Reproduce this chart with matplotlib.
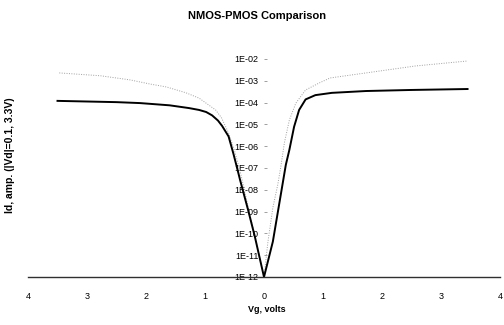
import matplotlib
matplotlib.use("Agg")
import matplotlib.pyplot as plt
from matplotlib.ticker import FuncFormatter, FixedLocator
import numpy as np

plt.rcParams['font.family'] = ['Liberation Sans Narrow', 'Liberation Sans', 'DejaVu Sans']

title = "NMOS-PMOS Comparison"
xlabel = "Vg, volts"
ylabel = "Id, amp. (|Vd|=0.1, 3.3V)"

# NMOS, low Vd (solid)
nmos_lo_vg = [0.0, 0.15, 0.37, 0.43, 0.51, 0.595, 0.705, 0.87, 1.15, 1.73, 2.5, 3.45]
nmos_lo_id = [1e-12, 4.2e-11, 1.4e-7, 6.8e-7, 7.8e-6, 4.6e-5, 1.4e-4, 2.2e-4, 2.8e-4, 3.4e-4, 3.8e-4, 4.2e-4]
# NMOS, high Vd (dotted)
nmos_hi_vg = [0.0, 0.067, 0.15, 0.233, 0.29, 0.345, 0.43, 0.54, 0.705, 0.93, 1.12, 1.73, 2.57, 3.45]
nmos_hi_id = [1e-12, 4.2e-11, 1.5e-9, 1.7e-8, 1.4e-7, 1.4e-6, 1.6e-5, 9.5e-5, 3.8e-4, 7.8e-4, 1.35e-3, 2.3e-3, 4.8e-3, 8.1e-3]
# PMOS, low Vd (solid)
pmos_lo_vg = [-3.5, -2.5, -2.1, -1.6, -1.27, -1.1, -0.98, -0.88, -0.78, -0.71, -0.6, -0.52, -0.46, -0.405, -0.27, -0.155, 0.0]
pmos_lo_id = [1.2e-4, 1.05e-4, 9.5e-5, 7.5e-5, 5.6e-5, 4.6e-5, 3.7e-5, 2.6e-5, 1.5e-5, 8.5e-6, 2.8e-6, 4.7e-7, 1.1e-7, 2.8e-8, 1.2e-9, 7.1e-11, 1e-12]
# PMOS, high Vd (dotted)
pmos_hi_vg = [-3.47, -2.77, -2.27, -1.93, -1.65, -1.32, -1.1, -0.82, -0.72, -0.6, -0.5, -0.4, -0.3, -0.2, -0.1, 0.0]
pmos_hi_id = [2.3e-3, 1.7e-3, 1.1e-3, 7.1e-4, 5.2e-4, 2.8e-4, 1.6e-4, 4.6e-5, 2.0e-5, 4.0e-6, 6.3e-7, 6.3e-8, 4.0e-9, 2.5e-10, 1.6e-11, 1e-12]

xticks = [-4, -3, -2, -1, 0, 1, 2, 3, 4]
yticks = [1e-12, 1e-11, 1e-10, 1e-9, 1e-8, 1e-7, 1e-6, 1e-5, 1e-4, 1e-3, 1e-2]

fig = plt.figure(figsize=(5.04, 3.25), dpi=100)
ax = fig.add_axes([28/504, 48/325, 472/504, 218/325])

ax.plot(nmos_hi_vg, nmos_hi_id, color='#a0a0a0', lw=0.7, ls=(0, (1, 1.5)))
ax.plot(pmos_hi_vg, pmos_hi_id, color='#a0a0a0', lw=0.7, ls=(0, (1, 1.5)))
ax.plot(nmos_lo_vg, nmos_lo_id, color='black', lw=1.4)
ax.plot(pmos_lo_vg, pmos_lo_id, color='black', lw=1.4)

ax.set_yscale('log')
ax.set_xlim(-4, 4)
ax.set_ylim(1e-12, 1e-2)

for s in ['top', 'right']:
    ax.spines[s].set_visible(False)
ax.spines['left'].set_position(('data', 0))
ax.spines['left'].set_visible(False)
ax.spines['bottom'].set_color('#303030')
ax.spines['bottom'].set_linewidth(1.0)

ax.xaxis.set_major_locator(FixedLocator(xticks))
ax.xaxis.set_major_formatter(FuncFormatter(lambda v, p: f"{abs(int(round(v)))}"))
ax.tick_params(axis='x', length=0, pad=11, labelsize=6.5)

ax.yaxis.set_major_locator(FixedLocator(yticks))
ax.yaxis.set_minor_locator(FixedLocator([]))
ax.yaxis.set_major_formatter(FuncFormatter(lambda v, p: f"1E-{-int(round(np.log10(v))):02d}"))
ax.tick_params(axis='y', direction='in', length=2, width=0.6, color='#909090', pad=4, labelsize=6.5)

ax.set_xlabel(xlabel, fontsize=6.5, fontweight='bold')
ax.xaxis.set_label_coords(0.506, -0.128)
ax.set_ylabel(ylabel, fontsize=7.5, fontweight='bold', family=['Liberation Sans', 'DejaVu Sans'])
ax.yaxis.set_label_coords(-0.028, 0.56)

fig.text(257/504, 1 - 16/325, title, ha='center', va='center', fontsize=8, fontweight='bold')

fig.savefig("out.png", dpi=100)
